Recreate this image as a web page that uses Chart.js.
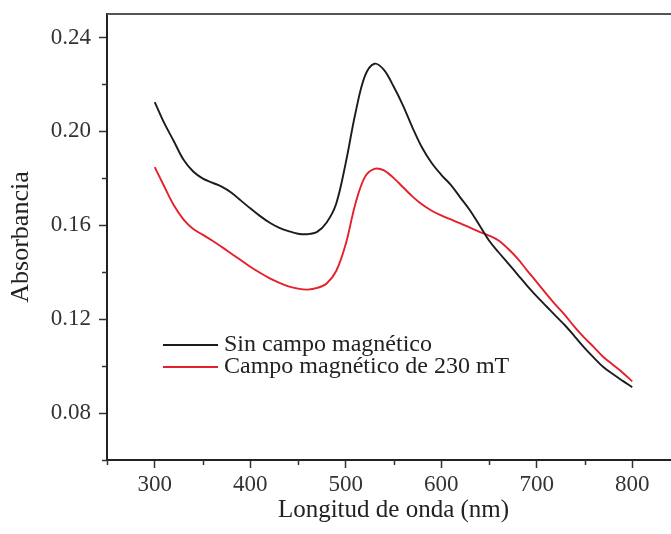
<!DOCTYPE html>
<html>
<head>
<meta charset="utf-8">
<title>Absorbancia</title>
<script src="https://cdn.jsdelivr.net/npm/chart.js@4"></script>
<style>
  html, body { margin: 0; padding: 0; background: #fff; overflow: hidden; }
  #wrap { width: 690px; height: 534px; }
</style>
</head>
<body>
<div id="wrap"><canvas id="absChart" width="690" height="534"></canvas></div>
<script>
// wavelengths (nm), one reading every 10 nm
const wavelengths = [300, 310, 320, 330, 340, 350, 360, 370, 380, 390, 400, 410, 420, 430, 440, 450,
  460, 470, 480, 490, 500, 510, 520, 530, 540, 550, 560, 570, 580, 590, 600, 610, 620, 630, 640, 650,
  660, 670, 680, 690, 700, 710, 720, 730, 740, 750, 760, 770, 780, 790, 800];

// absorbance without field (black)
const sinCampo = [0.2125, 0.2035, 0.1958, 0.1880, 0.1830, 0.1800, 0.1782, 0.1765, 0.1740, 0.1706,
  0.1672, 0.1640, 0.1612, 0.1590, 0.1575, 0.1564, 0.1562, 0.1572, 0.1612, 0.1692, 0.1866, 0.2075,
  0.2235, 0.2288, 0.2262, 0.2192, 0.2110, 0.2015, 0.1930, 0.1865, 0.1815, 0.1772, 0.1718, 0.1664,
  0.1600, 0.1535, 0.1485, 0.1438, 0.1390, 0.1342, 0.1297, 0.1255, 0.1213, 0.1172, 0.1125, 0.1078,
  0.1035, 0.0995, 0.0965, 0.0937, 0.0910];

// absorbance with 230 mT field (red)
const conCampo = [0.1848, 0.1765, 0.1685, 0.1625, 0.1585, 0.1560, 0.1535, 0.1508, 0.1480, 0.1452,
  0.1423, 0.1398, 0.1375, 0.1356, 0.1340, 0.1330, 0.1326, 0.1333, 0.1352, 0.1405, 0.1520, 0.1690,
  0.1805, 0.1840, 0.1834, 0.1802, 0.1762, 0.1722, 0.1688, 0.1662, 0.1642, 0.1625, 0.1608, 0.1590,
  0.1572, 0.1556, 0.1535, 0.1500, 0.1458, 0.1407, 0.1358, 0.1308, 0.1260, 0.1215, 0.1165, 0.1120,
  0.1080, 0.1038, 0.1005, 0.0972, 0.0935];

const seriesLabels = ['Sin campo magnético', 'Campo magnético de 230 mT'];
const seriesColors = ['#1c1c1c', '#e3202b'];

// tick positions: labelled ones plus the small ones between them
const xTickValues = [250, 300, 350, 400, 450, 500, 550, 600, 650, 700, 750, 800, 850];
const xTickLabels = [300, 400, 500, 600, 700, 800];
const yTickValues = [0.06, 0.08, 0.10, 0.12, 0.14, 0.16, 0.18, 0.20, 0.22, 0.24];
const yTickLabels = ['0.08', '0.12', '0.16', '0.20', '0.24'];

const serif = "'Liberation Serif', 'Times New Roman', serif";

function toPoints(xs, ys) {
  return xs.map((x, i) => ({ x: x, y: ys[i] }));
}

function isMajorX(v) {
  return xTickLabels.includes(Math.round(v));
}
function isMajorY(v) {
  return yTickLabels.includes(v.toFixed(2));
}

// short minor ticks, top frame line and the inside legend
const framePlugin = {
  id: 'frame',
  afterDraw(chart) {
    const ctx = chart.ctx;
    const area = chart.chartArea;
    const xs = chart.scales.x;
    const ys = chart.scales.y;
    ctx.save();

    // top frame
    ctx.strokeStyle = '#555';
    ctx.lineWidth = 2;
    ctx.beginPath();
    ctx.moveTo(area.left, area.top);
    ctx.lineTo(area.right, area.top);
    ctx.stroke();

    // minor ticks
    ctx.strokeStyle = '#333';
    ctx.lineWidth = 1.5;
    ctx.beginPath();
    xs.ticks.forEach(t => {
      if (isMajorX(t.value)) return;
      const px = Math.round(xs.getPixelForValue(t.value)) + 0.5;
      ctx.moveTo(px, area.bottom);
      ctx.lineTo(px, area.bottom + 5);
    });
    ys.ticks.forEach(t => {
      if (isMajorY(t.value)) return;
      const py = Math.round(ys.getPixelForValue(t.value)) + 0.5;
      ctx.moveTo(area.left, py);
      ctx.lineTo(area.left - 5, py);
    });
    ctx.stroke();

    // legend
    ctx.font = '24px ' + serif;
    ctx.textBaseline = 'middle';
    ctx.textAlign = 'left';
    chart.data.datasets.forEach((ds, i) => {
      const y = area.top + 331 + i * 22;
      ctx.strokeStyle = ds.borderColor;
      ctx.lineWidth = 2;
      ctx.beginPath();
      ctx.moveTo(area.left + 56, y);
      ctx.lineTo(area.left + 111, y);
      ctx.stroke();
      ctx.fillStyle = '#222';
      ctx.fillText(ds.label, area.left + 117, y);
    });
    ctx.restore();
  }
};

new Chart(document.getElementById('absChart'), {
  type: 'line',
  data: {
    datasets: [
      {
        label: seriesLabels[0],
        data: toPoints(wavelengths, sinCampo),
        borderColor: seriesColors[0],
        borderWidth: 1.9,
        pointRadius: 0,
        tension: 0.35,
        fill: false
      },
      {
        label: seriesLabels[1],
        data: toPoints(wavelengths, conCampo),
        borderColor: seriesColors[1],
        borderWidth: 1.9,
        pointRadius: 0,
        tension: 0.35,
        fill: false
      }
    ]
  },
  options: {
    responsive: false,
    animation: false,
    layout: { padding: { top: 14, right: 10, left: 0, bottom: 0 } },
    plugins: {
      legend: { display: false },
      tooltip: { enabled: false }
    },
    scales: {
      x: {
        type: 'linear',
        min: 250,
        max: 850,
        afterBuildTicks: (scale) => {
          scale.ticks = xTickValues.map(v => ({ value: v }));
        },
        afterFit: (scale) => {
          scale.height = 74;
          scale.paddingLeft = 0;
          scale.paddingRight = 0;
        },
        ticks: {
          padding: 3,
          color: '#333',
          font: { family: serif, size: 23 },
          callback: (v) => isMajorX(v) ? String(v) : ''
        },
        grid: {
          drawOnChartArea: false,
          tickLength: 8,
          tickWidth: 1.5,
          tickColor: (c) => (c.tick && isMajorX(c.tick.value)) ? '#333' : 'rgba(0,0,0,0)'
        },
        border: { color: '#222', width: 2 },
        title: {
          display: true,
          text: 'Longitud de onda (nm)',
          color: '#222',
          font: { family: serif, size: 25 },
          padding: { top: 0, bottom: 9 }
        }
      },
      y: {
        type: 'linear',
        min: 0.06,
        max: 0.25,
        afterBuildTicks: (scale) => {
          scale.ticks = yTickValues.map(v => ({ value: v }));
        },
        afterFit: (scale) => {
          scale.width = 107;
          scale.paddingTop = 0;
          scale.paddingBottom = 0;
        },
        ticks: {
          padding: 8,
          color: '#333',
          font: { family: serif, size: 23 },
          callback: (v) => isMajorY(v) ? v.toFixed(2) : ''
        },
        grid: {
          drawOnChartArea: false,
          tickLength: 8,
          tickWidth: 1.5,
          tickColor: (c) => (c.tick && isMajorY(c.tick.value)) ? '#333' : 'rgba(0,0,0,0)'
        },
        border: { color: '#222', width: 2 },
        title: {
          display: true,
          text: 'Absorbancia',
          color: '#222',
          font: { family: serif, size: 26 },
          padding: { top: 6, bottom: 0 }
        }
      }
    }
  },
  plugins: [framePlugin]
});
</script>
</body>
</html>
